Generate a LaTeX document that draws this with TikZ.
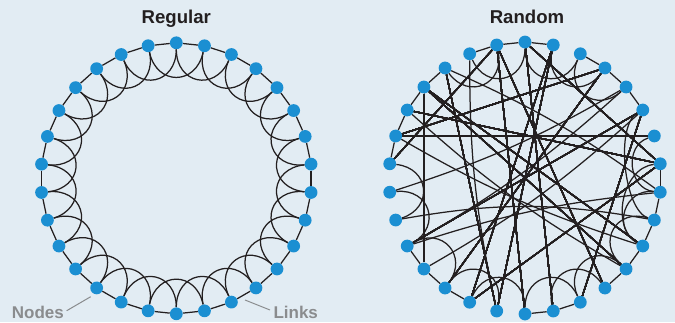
\documentclass[tikz,border=0pt]{standalone}
\usepackage{fontspec}
\setmainfont{Liberation Sans}
\usetikzlibrary{calc}
\definecolor{bgcol}{RGB}{226,236,243}
\definecolor{dotblue}{RGB}{27,143,210}
\definecolor{ink}{RGB}{35,31,32}
\definecolor{greytext}{RGB}{138,140,142}
\pgfdeclarelayer{back}
\pgfdeclarelayer{links}
\pgfsetlayers{back,links,main}
% arc between two nodes of a ring, bowing in towards the ring centre
\newcommand\hop[4]{\draw[link] (#1#2) .. controls ($(#1#2)!#4!(#1c)$) and ($(#1#3)!#4!(#1c)$) .. (#1#3);}
\tikzset{
  dot/.style={circle, fill=dotblue, draw=none, minimum size=12.8pt, inner sep=0pt},
  link/.style={draw=ink, line width=1.25pt},
  leader/.style={draw=greytext, line width=1pt},
  title/.style={font=\fontsize{18.6}{20}\selectfont\bfseries, text=ink, anchor=base, inner sep=0pt},
  tag/.style={font=\fontsize{17}{19}\selectfont\bfseries, text=greytext, anchor=base west, inner sep=0pt}
}
\begin{document}
\begin{tikzpicture}[x=1pt,y=-1pt]
\begin{pgfonlayer}{back}
  \fill[bgcol] (0,0) rectangle (675,322);
\end{pgfonlayer}
\useasboundingbox (0,0) rectangle (675,322);

% ring centres
\coordinate (Lc) at (176.3,178.3);
\coordinate (Rc) at (525,178);

% titles and tags
\node[title] (tReg) at (176.3,23.3) {Regular};
\node[title] (tRan) at (527,23.3) {Random};
\node[tag] (lblN) at (11.7,318.3) {Nodes};
\node[tag] (lblL) at (273.3,318.3) {Links};

% nodes
\foreach \i in {0,...,29} {
  \node[dot] (L\i) at ([shift={(176.3,178.3)}]{12*\i-90}:135.5) {};
  \node[dot] (R\i) at ([shift={(525,178)}]{12*\i-90}:136) {};
}

\begin{pgfonlayer}{links}
  % regular lattice: each node linked to its two nearest neighbours on each side
  \foreach \i [evaluate=\i as \j using {int(mod(\i+1,30))},
               evaluate=\i as \k using {int(mod(\i+2,30))}] in {0,...,29} {
    \draw[link] (L\i) -- (L\j);
    \hop{L}{\i}{\k}{41pt}
  }

  % random graph: short links along the ring
  \foreach \a/\b in {28/29,29/0,0/1,2/3,3/4,4/5,26/27,25/26,24/25,23/24,
                     19/20,18/19,17/18,14/15,13/14,10/11,9/10,8/9,7/8,11/12}
    \draw[link] (R\a) -- (R\b);
  % random graph: arcs between nearby nodes
  \foreach \a/\b/\w in {28/0/40pt,27/29/40pt,0/2/40pt,1/3/40pt,2/4/40pt,
                        23/21/40pt,22/20/40pt,20/18/40pt,18/16/40pt,17/15/40pt,
                        15/13/40pt,13/11/40pt,14/12/40pt,5/9/32pt,6/8/32pt,
                        7/10/38pt,8/10/36pt,9/11/40pt}
    \hop{R}{\a}{\b}{\w}
  % random graph: long links across the ring
  \foreach \a/\b in {24/6,26/19,23/29,24/3,27/16,1/16,29/15,0/14,
                     29/12,25/7,26/10,26/11,20/5,5/13,
                     18/3,0/7,17/7,17/1}
    \draw[link] (R\a) -- (R\b);
  % random graph: long links that sag a little
  \foreach \a/\b in {22/4,28/16,24/10,25/11,20/4,19/5}
    \draw[link] (R\a) to[bend right=6] (R\b);
  \foreach \a/\b in {20/8,27/8}
    \draw[link] (R\a) to[bend left=6] (R\b);
  \draw[link] (R21) to[bend left=10] (R9);

  % callouts
  \coordinate (nA) at (66.7,310.7);
  \coordinate (nB) at (90.7,296.7);
  \coordinate (kA) at (270,310);
  \coordinate (kB) at (245,300);
  \draw[leader] (nA) -- (nB);
  \draw[leader] (kA) -- (kB);
\end{pgfonlayer}
\end{tikzpicture}
\end{document}
